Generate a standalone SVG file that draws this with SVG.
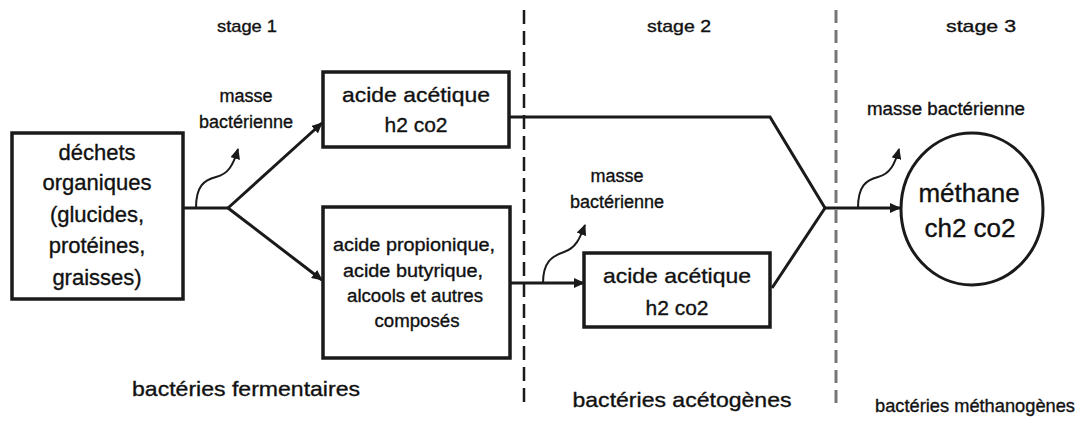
<svg xmlns="http://www.w3.org/2000/svg" width="1089" height="432" viewBox="0 0 1089 432">
<style>
  text{font-family:"Liberation Sans","DejaVu Sans",sans-serif;fill:#111;stroke:#111;stroke-width:0.35;text-anchor:middle}
  .box{fill:#fff;stroke:#1a1a1a;stroke-width:3.5}
  .ln{fill:none;stroke:#1a1a1a;stroke-width:3}
  .cv{fill:none;stroke:#1a1a1a;stroke-width:2}
  .stg{font-size:17px}
  .lbl{font-size:18px}
  .bot{font-size:21px}
</style>
<defs>
  <marker id="ah" markerUnits="userSpaceOnUse" markerWidth="12" markerHeight="10" refX="10" refY="5" orient="auto">
    <path d="M0,0 L11,5 L0,10 Z" fill="#1a1a1a"/>
  </marker>
  <marker id="ahs" markerUnits="userSpaceOnUse" markerWidth="12" markerHeight="10" refX="10" refY="5" orient="auto">
    <path d="M0,0 L11,5 L0,10 Z" fill="#1a1a1a"/>
  </marker>
</defs>
<rect width="1089" height="432" fill="#fff"/>

<g id="dividers">
  <line x1="524" y1="10" x2="524" y2="405" stroke="#1a1a1a" stroke-width="2.5" stroke-dasharray="14 7"/>
  <line x1="836" y1="10" x2="836" y2="405" stroke="#777" stroke-width="3" stroke-dasharray="13 7"/>
</g>

<g id="labels">
  <text class="stg" x="247" y="32" textLength="60" lengthAdjust="spacingAndGlyphs">stage 1</text>
  <text class="stg" x="679" y="32" textLength="64" lengthAdjust="spacingAndGlyphs">stage 2</text>
  <text class="stg" x="981" y="32" textLength="70" lengthAdjust="spacingAndGlyphs">stage 3</text>
  <text class="lbl" x="246" y="102">masse</text>
  <text class="lbl" x="246" y="128">bactérienne</text>
  <text class="lbl" x="617" y="182">masse</text>
  <text class="lbl" x="617" y="208">bactérienne</text>
  <text class="lbl" x="946" y="115" textLength="158" lengthAdjust="spacingAndGlyphs">masse bactérienne</text>
  <text class="bot" x="246" y="396" textLength="228" lengthAdjust="spacingAndGlyphs">bactéries fermentaires</text>
  <text class="bot" x="682" y="407" textLength="219" lengthAdjust="spacingAndGlyphs">bactéries acétogènes</text>
  <text x="975" y="412" font-size="19" textLength="200" lengthAdjust="spacingAndGlyphs">bactéries méthanogènes</text>
</g>

<g id="connectors">
  <polyline class="ln" points="183,208 228,208"/>
  <line class="ln" x1="228" y1="208" x2="322" y2="123" marker-end="url(#ah)"/>
  <line class="ln" x1="228" y1="208" x2="322" y2="280" marker-end="url(#ah)"/>
  <polyline class="ln" points="509,117 770,117 825,208"/>
  <line class="ln" x1="772" y1="288" x2="825" y2="208"/>
  <line class="ln" x1="510" y1="283" x2="584" y2="283" marker-end="url(#ah)"/>
  <line class="ln" x1="825" y1="208" x2="900" y2="208" marker-end="url(#ah)"/>
  <path class="cv" d="M196,208 C196,186 204,180 216,177 C228,174 233,166 238,149" marker-end="url(#ahs)"/>
  <path class="cv" d="M543,283 C543,262 552,256 564,252 C576,248 580,238 585,225" marker-end="url(#ahs)"/>
  <path class="cv" d="M858,208 C858,186 866,180 878,177 C890,174 895,164 899,149" marker-end="url(#ahs)"/>
</g>

<g id="n-dechets">
  <rect class="box" x="12" y="133" width="171" height="166"/>
  <text x="97" y="160" font-size="22">déchets</text>
  <text x="97" y="190" font-size="22">organiques</text>
  <text x="97" y="222" font-size="22">(glucides,</text>
  <text x="97" y="253" font-size="22">protéines,</text>
  <text x="97" y="285" font-size="22">graisses)</text>
</g>

<g id="n-acetique1">
  <rect class="box" x="323" y="72" width="186" height="75"/>
  <text x="416" y="102" font-size="21" textLength="148" lengthAdjust="spacingAndGlyphs">acide acétique</text>
  <text x="416" y="132" font-size="21">h2 co2</text>
</g>

<g id="n-propionique">
  <rect class="box" x="323" y="207" width="187" height="151"/>
  <text x="414" y="251" font-size="18" textLength="162" lengthAdjust="spacingAndGlyphs">acide propionique,</text>
  <text x="413" y="277" font-size="18" textLength="140" lengthAdjust="spacingAndGlyphs">acide butyrique,</text>
  <text x="415" y="302" font-size="18" textLength="136" lengthAdjust="spacingAndGlyphs">alcools et autres</text>
  <text x="417" y="327" font-size="18" textLength="85" lengthAdjust="spacingAndGlyphs">composés</text>
</g>

<g id="n-acetique2">
  <rect class="box" x="584" y="253" width="186" height="74"/>
  <text x="677" y="283" font-size="21" textLength="148" lengthAdjust="spacingAndGlyphs">acide acétique</text>
  <text x="677" y="315" font-size="21">h2 co2</text>
</g>

<g id="n-methane">
  <ellipse cx="972" cy="209" rx="71" ry="76" fill="#fff" stroke="#1a1a1a" stroke-width="3"/>
  <text x="969" y="202" font-size="26">méthane</text>
  <text x="970" y="237" font-size="26">ch2 co2</text>
</g>
</svg>
